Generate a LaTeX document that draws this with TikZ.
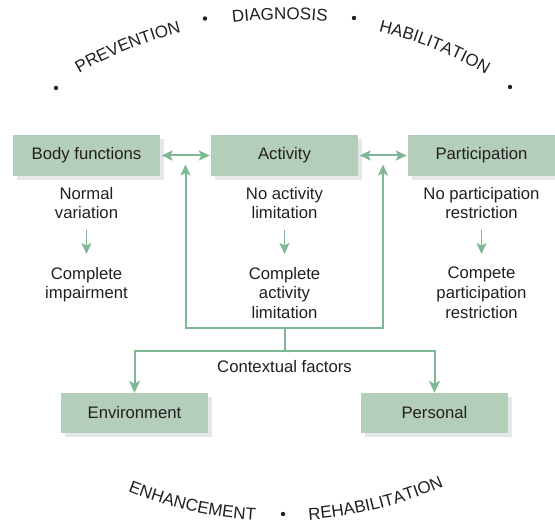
\documentclass[tikz,border=0pt]{standalone}
\usepackage{fontspec}
\setmainfont{Liberation Sans}
\usepackage{tikz}
\usetikzlibrary{positioning,calc,arrows.meta,shadows,decorations.text}
\definecolor{boxgreen}{RGB}{179,207,186}
\definecolor{linegreen}{RGB}{126,183,148}
\definecolor{shadowgray}{RGB}{230,231,235}
\definecolor{textgray}{RGB}{35,31,32}
\newcommand{\arcfont}{\fontsize{17}{20}\selectfont}

\begin{document}
\begin{tikzpicture}[
		x=1pt, y=1pt,
		every node/.style={text=textgray, font=\fontsize{16.7}{19.7}\selectfont},
		box/.style={fill=boxgreen, minimum width=147pt, minimum height=41pt, inner sep=0pt,
			copy shadow={shadow xshift=4pt, shadow yshift=-3.7pt, fill=shadowgray, draw=none}},
		lbl/.style={align=center, inner sep=0pt, anchor=north},
		link/.style={draw=linegreen, line width=2pt},
		arr/.style={link, -{Stealth[length=12pt, width=11pt, inset=3pt]}},
		sarr/.style={link, line width=1.8pt, -{Stealth[length=11pt, width=10pt, inset=2.5pt]}},
		dbl/.style={link, {Stealth[length=11pt, width=10pt, inset=2.5pt]}-{Stealth[length=11pt, width=10pt, inset=2.5pt]}},
		arctext/.style={decorate, decoration={text along path, text align=center, text color=textgray, text={|\arcfont|#1}}}
		]
		\useasboundingbox (0,0) rectangle (555,524);
		
		% ===== 3 hộp trên =====
		\foreach \n/\x/\t in {body/86.5/Body functions, act/284.5/Activity, part/481.5/Participation}{
			\node[box] (\n) at (\x,368.5) {\t};
		}
		
		% ===== chữ dưới các hộp =====
		\node[lbl] (bodyA) at (86.5,337) {Normal\\variation};
		\node[lbl] (bodyB) at (86.5,257) {Complete\\impairment};
		\node[lbl] (actA) at (284.5,337) {No activity\\limitation};
		\node[lbl] (actB) at (284.5,257) {Complete\\activity\\limitation};
		\node[lbl] (partA) at (481.5,337) {No participation\\restriction};
		\node[lbl] (partB) at (481.5,257) {Compete\\participation\\restriction};
		
		\foreach \c in {body,act,part}{
			\draw[sarr, shorten <=11pt, shorten >=13pt] (\c A) -- (\c B);
		}
		
		% ===== mũi tên hai chiều =====
		\draw[dbl, shorten <=1.5pt, shorten >=1pt] (body) -- (act);
		\draw[dbl, shorten <=1.5pt, shorten >=1pt] (act) -- (part);
		
		% ===== contextual factors =====
		\coordinate (lj) at ($(body.east)!.5!(act.west)$);
		\coordinate (rj) at ($(act.east)!.5!(part.west)$);
		\coordinate (hub) at (284.5,196);
		\coordinate (split) at (284.5,173);
		\draw[dbl] ($(lj)+(0,-9)$) |- (hub) -| ($(rj)+(0,-9)$);
		\draw[link] (hub) -- (split);
		\node[anchor=base] (ctx) at (284.5,151) {Contextual factors};
		
		\node[box, minimum height=40pt] (env) at (134.5,111) {Environment};
		\node[box, minimum height=40pt] (pers) at (434.5,111) {Personal};
		\draw[arr] (split) -| (env);
		\draw[arr] (split) -| (pers);
		
		% ===== vòng chữ trên =====
		\path[arctext=PREVENTION] (282,95.4) ++(132:409) arc[start angle=132, end angle=92, radius=409];
		\path[arctext=DIAGNOSIS] (282,95.4) ++(110.3:409) arc[start angle=110.3, end angle=70.3, radius=409];
		\path[arctext=HABILITATION] (282,95.4) ++(88.2:409) arc[start angle=88.2, end angle=48.2, radius=409];
		
		% ===== vòng chữ dưới =====
		\path[arctext=ENHANCEMENT] (280,407) ++(237.2:404) arc[start angle=237.2, end angle=277.2, radius=404];
		\path[arctext=REHABILITATION] (280,407) ++(264:404) arc[start angle=264, end angle=304, radius=404];
		
		% ===== các chấm =====
		\foreach \p in {(56,436),(205,505.5),(354,506),(510,437),(283,10)}{
			\fill[textgray] \p circle[radius=2.2];
		}
		
	\end{tikzpicture}
\end{document}
